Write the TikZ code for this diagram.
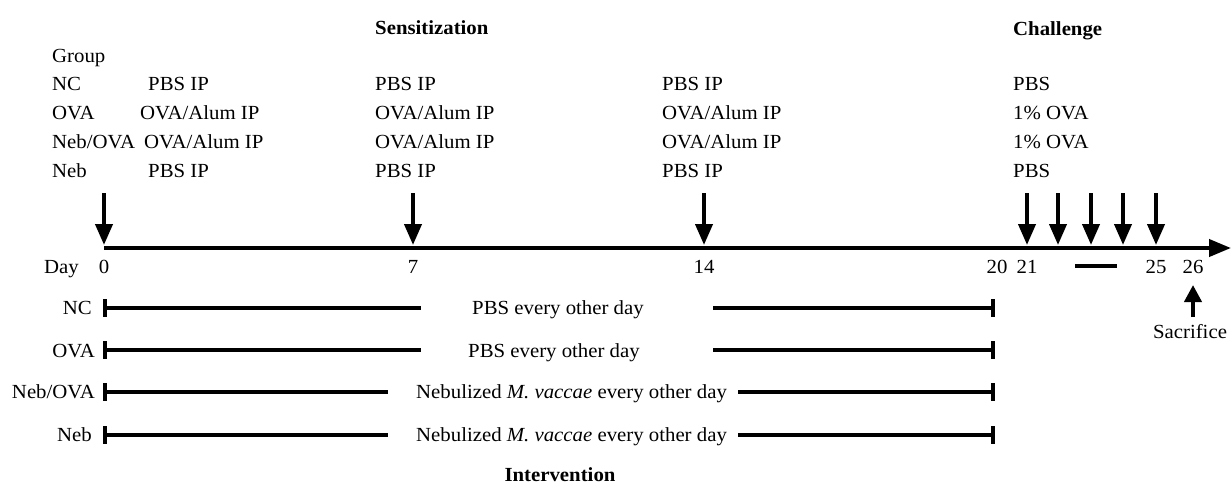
\documentclass[tikz,border=0pt]{standalone}
\usepackage{fontspec}
\setmainfont{Liberation Serif}[FakeStretch=1.04]
\usetikzlibrary{arrows.meta}
\begin{document}
\begin{tikzpicture}[x=1pt,y=-1pt,
  txt/.style={inner sep=0pt, anchor=base west, font=\fontsize{20}{24}\selectfont},
  hd/.style={txt, font=\fontsize{20}{24}\selectfont\bfseries},
  lbl/.style={txt, anchor=base east},
  num/.style={txt, anchor=base},
  axis/.style={line width=4pt, -{Triangle[width=17pt,length=22pt]}},
  darrow/.style={line width=4pt, -{Triangle[width=17pt,length=21pt]}},
  uarrow/.style={line width=4pt, -{Triangle[width=17pt,length=17pt]}},
  plain/.style={line width=4pt},
  tick/.style={line width=4.5pt}]
\useasboundingbox (0,0) rectangle (1231,483);

% headings
\node[hd] (sens) at (375,34) {Sensitization};
\node[hd] (chal) at (1013,35) {Challenge};
\node[hd, anchor=base] (interv) at (560,481) {Intervention};

% group table
\node[txt] (grp) at (52,62) {Group};
\node[txt] (gNC) at (52,90) {NC};
\node[txt] (gOVA) at (52,119) {OVA};
\node[txt] (gNO) at (52,148) {Neb/OVA};
\node[txt] (gNeb) at (52,177) {Neb};

\node[txt] (c1a) at (148,90) {PBS IP};
\node[txt] (c1b) at (140,119) {OVA/Alum IP};
\node[txt] (c1c) at (144,148) {OVA/Alum IP};
\node[txt] (c1d) at (148,177) {PBS IP};

\node[txt] (c2a) at (375,90) {PBS IP};
\node[txt] (c2b) at (375,119) {OVA/Alum IP};
\node[txt] (c2c) at (375,148) {OVA/Alum IP};
\node[txt] (c2d) at (375,177) {PBS IP};

\node[txt] (c3a) at (662,90) {PBS IP};
\node[txt] (c3b) at (662,119) {OVA/Alum IP};
\node[txt] (c3c) at (662,148) {OVA/Alum IP};
\node[txt] (c3d) at (662,177) {PBS IP};

\node[txt] (c4a) at (1013,90) {PBS};
\node[txt] (c4b) at (1013,119) {1\% OVA};
\node[txt] (c4c) at (1013,148) {1\% OVA};
\node[txt] (c4d) at (1013,177) {PBS};

% timeline
\coordinate (t0) at (104,248);
\coordinate (tend) at (1231,248);
\draw[axis] (t0) -- (tend);

\foreach \n/\x in {d0/104, d7/413, d14/704, d21/1027, d22/1058, d23/1091, d24/1123, d25/1156}{
  \coordinate (\n top) at (\x,193);
  \coordinate (\n tip) at (\x,245);
  \draw[darrow] (\n top) -- (\n tip);
}

% day labels
\node[txt] (day) at (44,273) {Day};
\node[num] (n0) at (104,273) {0};
\node[num] (n7) at (413,273) {7};
\node[num] (n14) at (704,273) {14};
\node[num] (n20) at (997,273) {20};
\node[num] (n21) at (1027,273) {21};
\node[num] (n25) at (1156,273) {25};
\node[num] (n26) at (1193,273) {26};
\coordinate (b1) at (1075,266);
\coordinate (b2) at (1117,266);
\draw[plain] (b1) -- (b2);

% sacrifice
\coordinate (sacbot) at (1193,317);
\coordinate (sactip) at (1193,285);
\draw[uarrow] (sacbot) -- (sactip);
\node[num] (sac) at (1190,338) {Sacrifice};

% intervention rows
\node[lbl] (iNC) at (92,314) {NC};
\node[txt] (tNC) at (472,314) {PBS every other day};
\coordinate (l1a) at (105,308); \coordinate (l1b) at (421,308);
\coordinate (r1a) at (713,308); \coordinate (r1b) at (993,308);

\node[lbl] (iOVA) at (95,357) {OVA};
\node[txt] (tOVA) at (468,357) {PBS every other day};
\coordinate (l2a) at (105,350); \coordinate (l2b) at (421,350);
\coordinate (r2a) at (713,350); \coordinate (r2b) at (993,350);

\node[lbl] (iNO) at (95,398) {Neb/OVA};
\node[txt] (tNO) at (416,398) {Nebulized \textit{M. vaccae} every other day};
\coordinate (l3a) at (105,392); \coordinate (l3b) at (388,392);
\coordinate (r3a) at (738,392); \coordinate (r3b) at (993,392);

\node[lbl] (iNeb) at (92,441) {Neb};
\node[txt] (tNeb) at (416,441) {Nebulized \textit{M. vaccae} every other day};
\coordinate (l4a) at (105,435); \coordinate (l4b) at (388,435);
\coordinate (r4a) at (738,435); \coordinate (r4b) at (993,435);

\foreach \i in {1,2,3,4}{
  \draw[plain] (l\i a) -- (l\i b);
  \draw[plain] (r\i a) -- (r\i b);
  \draw[tick] ([yshift=9pt]l\i a) -- ([yshift=-9pt]l\i a);
  \draw[tick] ([yshift=9pt]r\i b) -- ([yshift=-9pt]r\i b);
}
\end{tikzpicture}
\end{document}
